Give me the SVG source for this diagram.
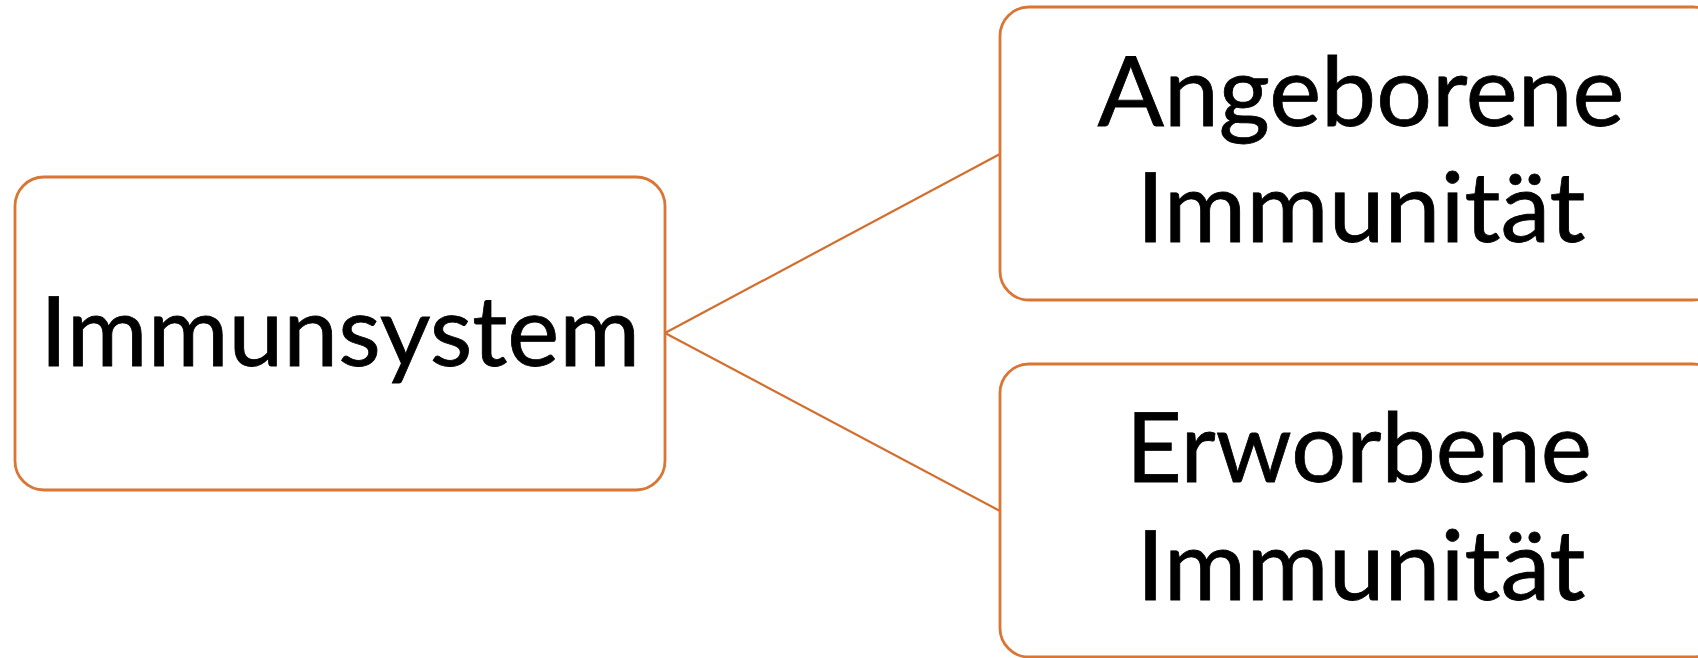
<svg xmlns="http://www.w3.org/2000/svg" width="1698" height="658" viewBox="0 0 1698 658">
<style>
.box{fill:#fff;stroke:#DA7533;stroke-width:2.8}
.conn{stroke:#D26E2E;stroke-width:2.2;fill:none}
.t{font-family:Lato,"Noto Sans","Liberation Sans",sans-serif;font-size:96px;fill:#000;stroke:#000;stroke-width:0.8;text-anchor:middle}
</style>
<rect width="1698" height="658" fill="#fff"/>
<g id="connectors">
<line class="conn" x1="665" y1="333" x2="1000" y2="154"/>
<line class="conn" x1="665" y1="333" x2="1000" y2="511"/>
</g>
<g id="immunsystem">
<rect class="box" x="15" y="177" width="650" height="313" rx="29"/>
<text class="t" x="340" y="366" textLength="600" lengthAdjust="spacingAndGlyphs">Immunsystem</text>
</g>
<g id="angeborene">
<rect class="box" x="1000" y="7" width="722" height="293" rx="29"/>
<text class="t" x="1361" y="126" textLength="527" lengthAdjust="spacingAndGlyphs">Angeborene</text>
<text class="t" x="1361" y="242" textLength="449" lengthAdjust="spacingAndGlyphs">Immunität</text>
</g>
<g id="erworbene">
<rect class="box" x="1000" y="364" width="722" height="293" rx="29"/>
<text class="t" x="1359" y="482" textLength="466" lengthAdjust="spacingAndGlyphs">Erworbene</text>
<text class="t" x="1361" y="600" textLength="449" lengthAdjust="spacingAndGlyphs">Immunität</text>
</g>
</svg>
